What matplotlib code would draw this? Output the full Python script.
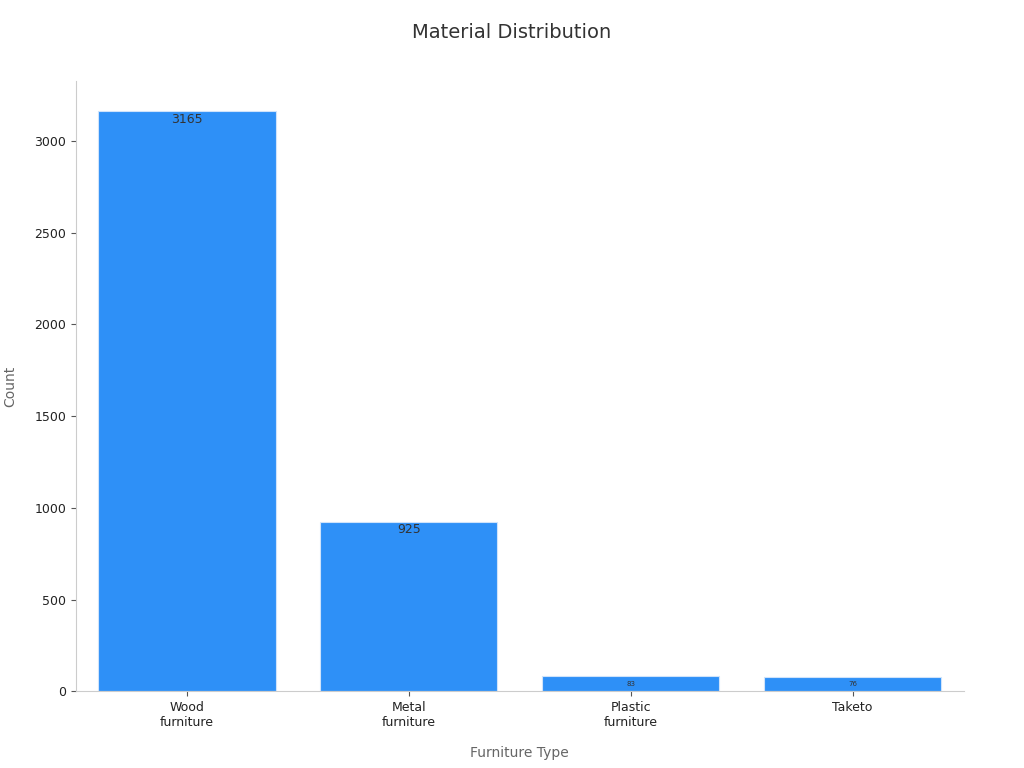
import matplotlib
matplotlib.use("Agg")
import matplotlib.pyplot as plt

categories = ["Wood\nfurniture", "Metal\nfurniture", "Plastic\nfurniture", "Taketo"]
counts = [3165, 925, 83, 76]

fig = plt.figure(figsize=(10.24, 7.68), dpi=100)
ax = fig.add_axes([0.074, 0.10, 0.867, 0.795])
bars = ax.bar(categories, counts, width=0.8, color="#2e90f7", edgecolor="#cfe3fb", linewidth=0.8)
for b, v in zip(bars, counts):
    fs = 9 if v > 500 else 5
    ax.text(b.get_x() + b.get_width() / 2, v - (10 if v > 500 else 0), str(v),
            ha="center", va="top" if v > 500 else "center", fontsize=fs, color="#333333",
            transform=ax.transData) if v > 500 else ax.text(b.get_x() + b.get_width() / 2, v / 2, str(v),
            ha="center", va="center", fontsize=fs, color="#333333")
ax.set_xlim(-0.4 - 0.1, 3.4 + 0.1)
ax.set_ylim(0, 3330)
ax.set_yticks([0, 500, 1000, 1500, 2000, 2500, 3000])
for s in ["top", "right"]:
    ax.spines[s].set_visible(False)
ax.spines["left"].set_color("#cccccc")
ax.spines["bottom"].set_color("#cccccc")
ax.tick_params(colors="#222222", labelsize=9)
ax.tick_params(axis="both", color="#555555")
ax.set_xlabel("Furniture Type", fontsize=10, color="#666666", labelpad=12)
ax.set_ylabel("Count", fontsize=10, color="#666666", labelpad=12)
fig.suptitle("Material Distribution", fontsize=14, color="#333333", y=0.97)
fig.savefig("out.png", dpi=100)
